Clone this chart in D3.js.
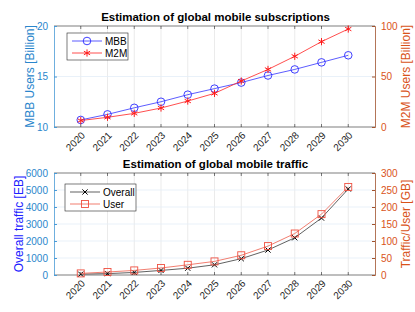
<!DOCTYPE html>
<html>
<head>
<meta charset="utf-8">
<script src="https://cdn.jsdelivr.net/npm/d3@7"></script>
<style>
  body { margin: 0; background: #fff; }
  svg text { font-family: "Liberation Sans", Arial, sans-serif; }
</style>
</head>
<body>
<svg id="chart" width="415" height="312"></svg>
<script>
const years = [2020, 2021, 2022, 2023, 2024, 2025, 2026, 2027, 2028, 2029, 2030];
const mbbUsers = [10.7, 11.25, 11.9, 12.5, 13.2, 13.8, 14.4, 15.1, 15.7, 16.4, 17.1];
const m2mUsers = [6.4, 9.6, 13.5, 18.8, 25.7, 33.3, 45.5, 57, 70, 84.5, 97];
const overallTraffic = [50, 80, 150, 270, 400, 600, 960, 1470, 2190, 3350, 5060];
const userTraffic = [4.7, 8.8, 13.5, 20.6, 30, 40, 58, 85, 122, 179, 259];

const mbbTicks = [10, 15, 20];
const m2mTicks = [0, 50, 100];
const overallTicks = [0, 1000, 2000, 3000, 4000, 5000, 6000];
const userTicks = [0, 50, 100, 150, 200, 250, 300];

const svg = d3.select('#chart');
const left = 54, right = 375;

const x = d3.scaleLinear().domain([2019, 2031]).range([left, right]);

// one panel with two y axes
let drawPanel = function (p) {
  const g = svg.append('g');
  const yL = d3.scaleLinear().domain(p.leftDomain).range([p.bottom, p.top]);
  const yR = d3.scaleLinear().domain(p.rightDomain).range([p.bottom, p.top]);

  // grid
  g.append('g').selectAll('line').data(years).join('line')
    .attr('x1', d => x(d)).attr('x2', d => x(d))
    .attr('y1', p.top).attr('y2', p.bottom)
    .attr('stroke', '#e6e6e6').attr('stroke-width', 0.8);
  g.append('g').selectAll('line').data(p.leftTicks.slice(1, -1)).join('line')
    .attr('x1', left).attr('x2', right)
    .attr('y1', d => yL(d)).attr('y2', d => yL(d))
    .attr('stroke', '#e3eef8').attr('stroke-width', 0.8);

  // frame top / bottom
  g.append('line').attr('x1', left).attr('x2', right).attr('y1', p.top).attr('y2', p.top)
    .attr('stroke', '#262626').attr('stroke-width', 0.6);
  g.append('line').attr('x1', left).attr('x2', right).attr('y1', p.bottom).attr('y2', p.bottom)
    .attr('stroke', '#262626').attr('stroke-width', 0.6);

  // x ticks inside
  g.append('g').selectAll('line').data(years).join('line')
    .attr('x1', d => x(d)).attr('x2', d => x(d))
    .attr('y1', p.bottom).attr('y2', p.bottom - 3)
    .attr('stroke', '#262626').attr('stroke-width', 0.6);
  g.append('g').selectAll('line').data(years).join('line')
    .attr('x1', d => x(d)).attr('x2', d => x(d))
    .attr('y1', p.top).attr('y2', p.top + 3)
    .attr('stroke', '#262626').attr('stroke-width', 0.6);

  g.append('g').selectAll('text').data(years).join('text')
    .attr('transform', d => 'translate(' + (x(d) + 5) + ',' + (p.bottom + 9) + ') rotate(-45)')
    .attr('text-anchor', 'end')
    .attr('font-size', 10)
    .attr('fill', '#262626')
    .text(d => d);

  // left axis
  const axL = d3.axisLeft(yL).tickValues(p.leftTicks).tickFormat(d3.format('d'))
    .tickSize(-3).tickPadding(6);
  const gl = g.append('g').attr('transform', 'translate(' + left + ',0)').call(axL);
  gl.select('.domain').attr('stroke', p.leftAxisColor).attr('stroke-width', 0.8);
  gl.selectAll('.tick line').attr('stroke', p.leftAxisColor);
  gl.selectAll('.tick text').attr('fill', p.leftTickColor).attr('font-size', 10)
    .attr('font-family', '"Liberation Sans", Arial, sans-serif');

  // right axis
  const axR = d3.axisRight(yR).tickValues(p.rightTicks).tickFormat(d3.format('d'))
    .tickSize(-3).tickPadding(6);
  const gr = g.append('g').attr('transform', 'translate(' + right + ',0)').call(axR);
  gr.select('.domain').attr('stroke', '#a0522d').attr('stroke-width', 0.8);
  gr.selectAll('.tick line').attr('stroke', '#a0522d');
  gr.selectAll('.tick text').attr('fill', '#D95319').attr('font-size', 10)
    .attr('font-family', '"Liberation Sans", Arial, sans-serif');

  // labels
  const midY = (p.top + p.bottom) / 2;
  g.append('text')
    .attr('transform', 'translate(' + p.leftLabelX + ',' + midY + ') rotate(-90)')
    .attr('text-anchor', 'middle').attr('font-size', 12)
    .attr('fill', p.leftLabelColor).text(p.leftLabel);
  g.append('text')
    .attr('transform', 'translate(' + 410 + ',' + midY + ') rotate(-90)')
    .attr('text-anchor', 'middle').attr('font-size', 12)
    .attr('fill', '#D95319').text(p.rightLabel);
  g.append('text')
    .attr('x', (left + right) / 2 + 1).attr('y', p.top - 5)
    .attr('text-anchor', 'middle').attr('font-size', 11.5).attr('font-weight', 'bold')
    .attr('fill', '#000').text(p.title);

  // series
  p.series.forEach(function (s) {
    const y = s.axis === 'left' ? yL : yR;
    const pts = years.map((yr, i) => [x(yr), y(s.values[i])]);
    g.append('path').datum(pts)
      .attr('d', d3.line())
      .attr('fill', 'none').attr('stroke', s.color).attr('stroke-width', 1)
      .attr('stroke-opacity', s.lineOpacity || 1);
    const mg = g.append('g');
    pts.forEach(function (pt) {
      drawMarker(mg, s.marker, pt[0], pt[1], s.markerColor);
    });
  });

  // legend
  const lg = g.append('g').attr('transform', 'translate(' + p.legend.x + ',' + p.legend.y + ')');
  lg.append('rect').attr('width', p.legend.w).attr('height', 27)
    .attr('fill', '#fff').attr('stroke', '#262626').attr('stroke-width', 0.6);
  p.series.forEach(function (s, i) {
    const ly = 8 + i * 12;
    lg.append('line').attr('x1', 5).attr('x2', 35).attr('y1', ly).attr('y2', ly)
      .attr('stroke', s.color).attr('stroke-width', 1).attr('stroke-opacity', s.lineOpacity || 1);
    drawMarker(lg, s.marker, 20, ly, s.markerColor);
    lg.append('text').attr('x', 38).attr('y', ly + 3.5)
      .attr('font-size', 10).attr('fill', '#000').text(s.name);
  });
};

let drawMarker = function (g, type, cx, cy, color) {
  if (type === 'circle') {
    g.append('circle').attr('cx', cx).attr('cy', cy).attr('r', 3.8)
      .attr('fill', 'none').attr('stroke', color).attr('stroke-width', 0.9);
  } else if (type === 'square') {
    g.append('rect').attr('x', cx - 3.5).attr('y', cy - 3.5).attr('width', 7).attr('height', 7)
      .attr('fill', 'none').attr('stroke', color).attr('stroke-width', 0.9);
  } else if (type === 'star') {
    const r = 3.6;
    [0, 60, 120].forEach(function (a) {
      const rad = a * Math.PI / 180;
      g.append('line')
        .attr('x1', cx - r * Math.sin(rad)).attr('y1', cy - r * Math.cos(rad))
        .attr('x2', cx + r * Math.sin(rad)).attr('y2', cy + r * Math.cos(rad))
        .attr('stroke', color).attr('stroke-width', 1);
    });
  } else if (type === 'x') {
    const r = 2.6;
    g.append('path')
      .attr('d', 'M' + (cx - r) + ',' + (cy - r) + 'L' + (cx + r) + ',' + (cy + r) +
        'M' + (cx - r) + ',' + (cy + r) + 'L' + (cx + r) + ',' + (cy - r))
      .attr('stroke', color).attr('stroke-width', 1);
  }
};

drawPanel({
  top: 26, bottom: 127,
  leftDomain: [10, 20], rightDomain: [0, 100],
  leftTicks: mbbTicks, rightTicks: m2mTicks,
  leftAxisColor: '#4a9ad6', leftTickColor: '#2a86cc', leftLabelColor: '#2a86cc',
  leftLabel: 'MBB Users [Billion]', rightLabel: 'M2M Users [Billion]', leftLabelX: 34,
  title: 'Estimation of global mobile subscriptions',
  legend: { x: 67, y: 33, w: 61 },
  series: [
    { name: 'MBB', values: mbbUsers, axis: 'left', color: '#4040ff', markerColor: '#2a2aff', marker: 'circle', lineOpacity: 0.85 },
    { name: 'M2M', values: m2mUsers, axis: 'right', color: '#ff3030', markerColor: '#ff1a1a', marker: 'star', lineOpacity: 0.85 }
  ]
});

drawPanel({
  top: 173, bottom: 275,
  leftDomain: [0, 6000], rightDomain: [0, 300],
  leftTicks: overallTicks, rightTicks: userTicks,
  leftAxisColor: '#4a9ad6', leftTickColor: '#2a86cc', leftLabelColor: '#2020ff',
  leftLabel: 'Overall traffic [EB]', rightLabel: 'Traffic/User [GB]', leftLabelX: 23,
  title: 'Estimation of global mobile traffic',
  legend: { x: 65, y: 184, w: 71 },
  series: [
    { name: 'Overall', values: overallTraffic, axis: 'left', color: '#505050', markerColor: '#000', marker: 'x', lineOpacity: 0.9 },
    { name: 'User', values: userTraffic, axis: 'right', color: '#f07060', markerColor: '#f05040', marker: 'square', lineOpacity: 0.9 }
  ]
});
</script>
</body>
</html>
